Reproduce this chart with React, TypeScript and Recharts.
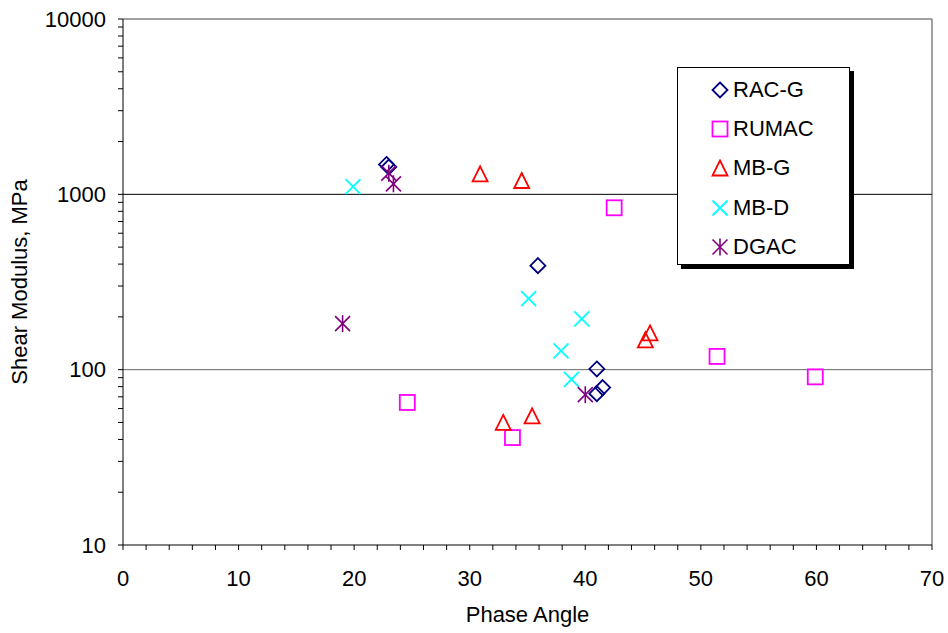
// Shear modulus vs phase angle scatter (log y axis) using Recharts

import { ScatterChart, Scatter, XAxis, YAxis, ReferenceLine, Legend } from 'recharts';

// RAC-G
const racgPhase = [22.8, 23.0, 35.9, 41.0, 41.5, 41.0];
const racgModulus = [1480, 1430, 392, 101, 79, 73];
// RUMAC
const rumacPhase = [42.5, 24.6, 33.7, 51.4, 59.9];
const rumacModulus = [838, 65, 41, 119, 91];
// MB-G
const mbgPhase = [30.9, 34.5, 32.9, 35.4, 45.6, 45.2];
const mbgModulus = [1309, 1199, 50, 54.5, 162, 148];
// MB-D
const mbdPhase = [19.9, 35.1, 39.7, 37.9, 38.8];
const mbdModulus = [1108, 254, 195, 128, 88];
// DGAC
const dgacPhase = [23.0, 23.4, 19.0, 40.0];
const dgacModulus = [1321, 1148, 183, 72];

const xTicks = [0, 2, 4, 6, 8, 10, 12, 14, 16, 18, 20, 22, 24, 26, 28, 30, 32, 34, 36, 38, 40,
  42, 44, 46, 48, 50, 52, 54, 56, 58, 60, 62, 64, 66, 68, 70];
const yTicks = [10, 20, 30, 40, 50, 60, 70, 80, 90, 100, 200, 300, 400, 500, 600, 700, 800, 900,
  1000, 2000, 3000, 4000, 5000, 6000, 7000, 8000, 9000, 10000];
const yMajor = [10, 100, 1000, 10000];

type Kind = 'diamond' | 'square' | 'triangle' | 'cross' | 'star';

const toPoints = (xs: number[], ys: number[]) => xs.map((x, i) => ({ x, y: ys[i] }));

const SERIES: { name: string; kind: Kind; color: string; data: { x: number; y: number }[] }[] = [
  { name: 'RAC-G', kind: 'diamond', color: '#000080', data: toPoints(racgPhase, racgModulus) },
  { name: 'RUMAC', kind: 'square', color: '#FF00FF', data: toPoints(rumacPhase, rumacModulus) },
  { name: 'MB-G', kind: 'triangle', color: '#FF0000', data: toPoints(mbgPhase, mbgModulus) },
  { name: 'MB-D', kind: 'cross', color: '#00FFFF', data: toPoints(mbdPhase, mbdModulus) },
  { name: 'DGAC', kind: 'star', color: '#800080', data: toPoints(dgacPhase, dgacModulus) },
];

function Marker({ kind, cx, cy, color }: { kind: Kind; cx: number; cy: number; color: string }) {
  const r = 7.5;
  switch (kind) {
    case 'diamond':
      return (
        <polygon points={`${cx},${cy - r} ${cx + r},${cy} ${cx},${cy + r} ${cx - r},${cy}`}
          fill="none" stroke={color} strokeWidth={1.8} />
      );
    case 'square':
      return <rect x={cx - r} y={cy - r} width={2 * r} height={2 * r} fill="none" stroke={color} strokeWidth={1.8} />;
    case 'triangle':
      return (
        <polygon points={`${cx},${cy - r} ${cx + r},${cy + r} ${cx - r},${cy + r}`}
          fill="none" stroke={color} strokeWidth={1.8} />
      );
    case 'cross':
      return (
        <g stroke={color} strokeWidth={1.8}>
          <line x1={cx - r} y1={cy - r} x2={cx + r} y2={cy + r} />
          <line x1={cx - r} y1={cy + r} x2={cx + r} y2={cy - r} />
        </g>
      );
    default:
      return (
        <g stroke={color} strokeWidth={1.6}>
          <line x1={cx - r} y1={cy - r} x2={cx + r} y2={cy + r} />
          <line x1={cx - r} y1={cy + r} x2={cx + r} y2={cy - r} />
          <line x1={cx} y1={cy - r - 1} x2={cx} y2={cy + r + 1} />
        </g>
      );
  }
}

const renderLegend = (props: any) => {
  const names = (props.payload || []).map((entry: any) => entry.value);
  // keep the original series order, not the alphabetical one
  const items = SERIES.filter((s) => names.includes(s.name));
  return (
    <div
      style={{
        border: '1px solid #000',
        boxShadow: '4px 4px 0 #000',
        background: '#fff',
        width: 173,
        height: 198,
        boxSizing: 'border-box',
        paddingTop: 2,
      }}
    >
      {items.map((s) => (
        <div key={s.name} style={{ height: 39.3, display: 'flex', alignItems: 'center' }}>
          <svg width={18} height={18} style={{ marginLeft: 33, marginRight: 4 }}>
            <Marker kind={s.kind} cx={9} cy={9} color={s.color} />
          </svg>
          <span style={{ fontSize: 22, color: '#000', lineHeight: '22px' }}>{s.name}</span>
        </div>
      ))}
    </div>
  );
};

const YTitle = (props: any) => {
  const { viewBox } = props;
  const cy = viewBox.y + viewBox.height / 2;
  return (
    <text x={27} y={cy} transform={`rotate(-90, 27, ${cy})`} textAnchor="middle" fontSize={22} fill="#000">
      Shear Modulus, MPa
    </text>
  );
};

export default function App() {
  return (
    <div style={{ position: 'absolute', left: 0, top: 0, fontFamily: '"Liberation Sans", Arial, sans-serif' }}>
      <ScatterChart width={948} height={633} margin={{ top: 19, right: 16, bottom: 0, left: 0 }}>
        <XAxis
          type="number"
          dataKey="x"
          domain={[0, 70]}
          ticks={xTicks}
          interval={0}
          height={88}
          stroke="#000"
          tickSize={5}
          tickMargin={20}
          tick={{ fill: '#000', fontSize: 22 }}
          tickFormatter={(v: number) => (v % 10 === 0 ? String(v) : '')}
          label={{ value: 'Phase Angle', position: 'insideBottom', offset: 11, fill: '#000', fontSize: 22 }}
        />
        <YAxis
          type="number"
          dataKey="y"
          scale="log"
          domain={[10, 10000]}
          ticks={yTicks}
          interval={0}
          allowDataOverflow
          width={123}
          stroke="#000"
          tickSize={5}
          tickMargin={12}
          tick={{ fill: '#000', fontSize: 22 }}
          tickFormatter={(v: number) => (yMajor.includes(v) ? String(v) : '')}
          label={<YTitle />}
        />
        <ReferenceLine y={10000} stroke="#808080" strokeWidth={1.5} />
        <ReferenceLine x={70} stroke="#808080" strokeWidth={1.5} />
        <ReferenceLine y={1000} stroke="#000" />
        <ReferenceLine y={100} stroke="#666" />
        {SERIES.map((s) => (
          <Scatter
            key={s.name}
            name={s.name}
            data={s.data}
            fill={s.color}
            isAnimationActive={false}
            shape={(p: any) => <Marker kind={s.kind} cx={p.cx} cy={p.cy} color={s.color} />}
          />
        ))}
        <Legend
          layout="horizontal"
          verticalAlign="middle"
          align="center"
          content={renderLegend}
          wrapperStyle={{ left: 677, top: 67, width: 173 }}
        />
      </ScatterChart>
    </div>
  );
}
